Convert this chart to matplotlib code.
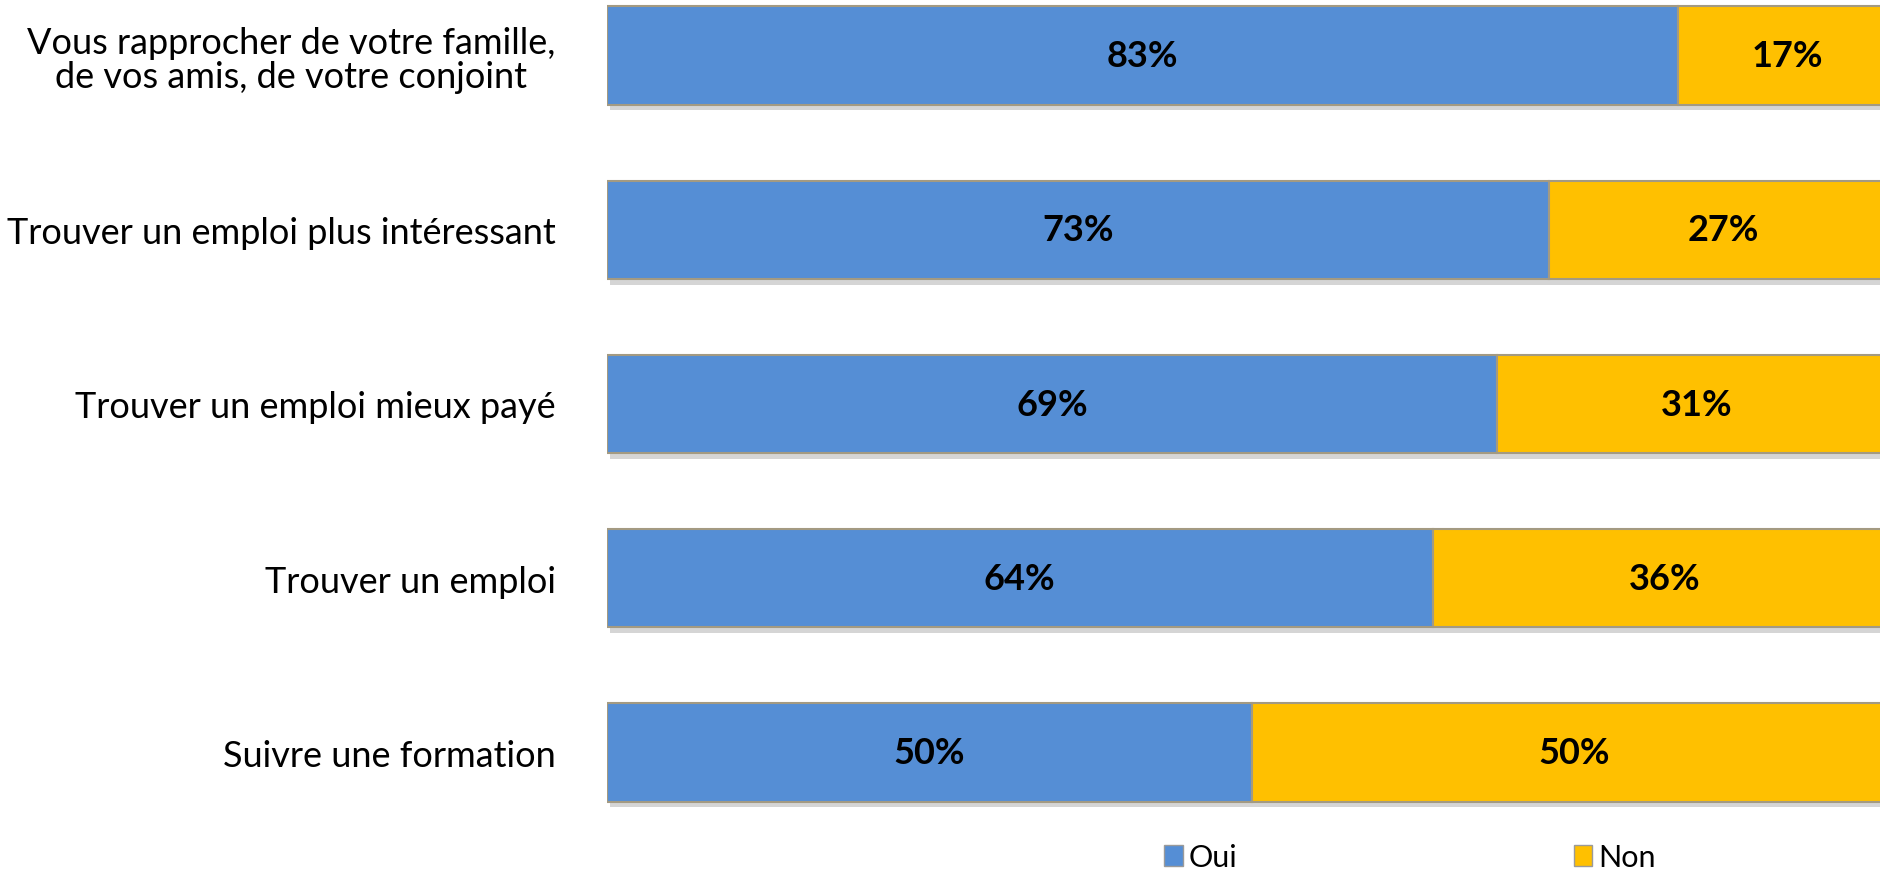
import numpy as np
import matplotlib
matplotlib.use("Agg")
import matplotlib.pyplot as plt
import matplotlib.patheffects as pe
from matplotlib.patches import Patch

# -----------------------------
# Data
# -----------------------------
categories = [
    "Vous rapprocher de votre famille,\nde vos amis, de votre conjoint",
    "Trouver un emploi plus intéressant",
    "Trouver un emploi mieux payé",
    "Trouver un emploi",
    "Suivre une formation",
]
oui = [83, 73, 69, 64, 50]
non = [17, 27, 31, 36, 50]
series_names = ["Oui", "Non"]

blue = "#558ED5"
yellow = "#FFC000"
edge = "#A39A82"

plt.rcParams["font.family"] = ["Lato", "DejaVu Sans"]

fig = plt.figure(figsize=(18.8, 8.7), dpi=100)
# axes placed so bars run off the right edge like the original
ax = fig.add_axes([607 / 1880, 1 - 840.6 / 870, 1290 / 1880, 871.2 / 870])

y = np.arange(len(categories))
shadow = [pe.SimplePatchShadow(offset=(2, -4), shadow_rgbFace="#888888", alpha=0.35), pe.Normal()]

b1 = ax.barh(y, oui, height=0.565, color=blue, edgecolor=edge, linewidth=1.5)
b2 = ax.barh(y, non, left=oui, height=0.565, color=yellow, edgecolor=edge, linewidth=1.5)
for bar in list(b1) + list(b2):
    bar.set_path_effects(shadow)

for i in range(len(categories)):
    ax.text(oui[i] / 2, y[i], f"{oui[i]}%", ha="center", va="center",
            fontsize=26, fontweight="bold", color="black")
    ax.text(oui[i] + non[i] / 2, y[i], f"{non[i]}%", ha="center", va="center",
            fontsize=26, fontweight="bold", color="black")

ax.set_xlim(0, 100)
ax.set_ylim(4.5, -0.5)
ax.set_yticks(y)
ax.set_yticklabels(categories, fontsize=26, ha="right", multialignment="center",
                   linespacing=1.05)
ax.tick_params(axis="y", length=0, pad=37)
ax.set_xticks([])
for s in ax.spines.values():
    s.set_visible(False)

handles = [Patch(facecolor=blue, edgecolor="#9a9a9a", label=series_names[0]),
           Patch(facecolor=yellow, edgecolor="#9a9a9a", label=series_names[1])]
fig.legend(handles=handles, loc="center", bbox_to_anchor=(1410 / 1880, 1 - 858 / 870),
           ncol=2, frameon=False, fontsize=22, handlelength=0.6, handleheight=0.7,
           handletextpad=0.2, columnspacing=11)

fig.savefig("out.png", dpi=100)
